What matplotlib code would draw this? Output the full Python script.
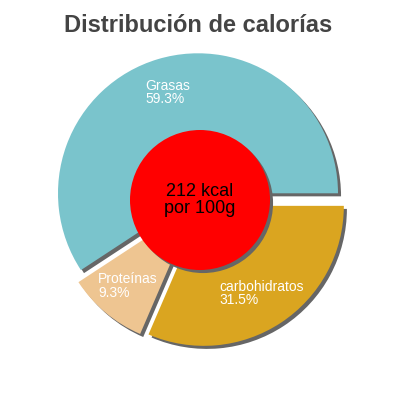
import numpy as np
import matplotlib
matplotlib.use("Agg")
import matplotlib.pyplot as plt
import matplotlib.patheffects as pe
from matplotlib.patches import Circle

plt.rcParams["font.family"] = ["Liberation Sans", "DejaVu Sans"]

# data
labels = ["carbohidratos", "Proteínas", "Grasas"]
percents = [31.5, 9.3, 59.3]
colors = ["#DAA520", "#EEC591", "#7AC4CC"]
title = "Distribución de calorías"
center_text = "212 kcal\npor 100g"

shadow = [pe.SimplePatchShadow(offset=(2.2, -2.2),
                               shadow_rgbFace="#666666", alpha=1.0),
          pe.Normal()]

fig = plt.figure(figsize=(4, 4), dpi=100)
ax = fig.add_axes([0, 0, 1, 1])

wedges, _ = ax.pie(
    percents,
    colors=colors,
    startangle=0,
    counterclock=False,
    explode=[0.05] * len(percents),
    radius=1.0,
    wedgeprops=dict(linewidth=0),
)

for w in wedges:
    w.set_path_effects(shadow)

for w, lab, p in zip(wedges, labels, percents):
    mid = np.deg2rad((w.theta1 + w.theta2) / 2)
    cx, cy = w.center
    x = cx + 0.75 * w.r * np.cos(mid)
    y = cy + 0.75 * w.r * np.sin(mid)
    ax.text(x, y, f"{lab}\n{p}%", color="white", fontsize=10,
            ha="center", va="center", multialignment="left",
            linespacing=0.95)

hole = Circle((0, 0), 0.5, facecolor="#FF0000", edgecolor="none", zorder=5)
hole.set_path_effects(shadow)
ax.add_patch(hole)
ax.text(0, 0, center_text, ha="center", va="center", fontsize=13,
        color="black", linespacing=1.05, zorder=6)

lim = 1 / 0.7
ax.set_xlim(-lim, lim)
ax.set_ylim(-lim, lim)
ax.set_aspect("equal")
ax.axis("off")

fig.text(0.495, 0.92, title, ha="center", va="baseline", fontsize=17,
         fontweight="bold", color="#444444")

fig.savefig("out.png", dpi=100)
